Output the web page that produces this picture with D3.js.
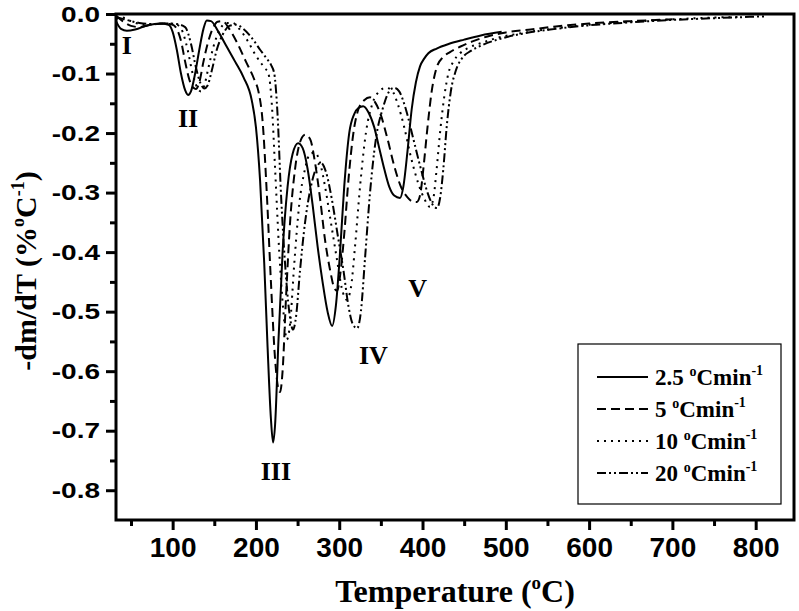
<!DOCTYPE html>
<html>
<head>
<meta charset="utf-8">
<script src="https://d3js.org/d3.v7.min.js"></script>
<style>
  body { margin: 0; background: #fff; }
  .tick-lbl { font-family: "Liberation Sans", Arial, sans-serif; font-weight: bold; font-size: 28px; }
  .serif { font-family: "Liberation Serif", "Times New Roman", serif; font-weight: bold; }
</style>
</head>
<body>
<div id="chart"></div>
<script>
// DTG curves: [temperature degC, -dm/dT %/degC]
var rate25 = [[32,-0.012],[38,-0.025],[45,-0.028],[55,-0.026],[70,-0.019],[85,-0.016],[95,-0.018],[100,-0.03],[105,-0.06],[110,-0.1],[115,-0.128],[118.5,-0.136],[122,-0.13],[127,-0.1],[132,-0.06],[137,-0.025],[141,-0.011],[146,-0.012],[155,-0.03],[165,-0.055],[175,-0.08],[185,-0.106],[195,-0.145],[200,-0.19],[205,-0.28],[210,-0.42],[214,-0.56],[218,-0.68],[220.6,-0.72],[223,-0.69],[227,-0.55],[232,-0.4],[238,-0.29],[244,-0.235],[250.6,-0.217],[256,-0.225],[262,-0.26],[268,-0.32],[274,-0.39],[280,-0.45],[286,-0.5],[291.5,-0.524],[296,-0.49],[301,-0.4],[306,-0.29],[312,-0.2],[318,-0.168],[323,-0.158],[328.7,-0.155],[335,-0.165],[342,-0.19],[348,-0.225],[354,-0.26],[360,-0.29],[366,-0.305],[373,-0.309],[377,-0.29],[382,-0.23],[387,-0.16],[392,-0.115],[397,-0.088],[402,-0.075],[407,-0.066],[417,-0.058],[432,-0.05],[450,-0.043],[470,-0.036],[495,-0.03]];
var rate5 = [[32,-0.003],[40,-0.012],[50,-0.02],[60,-0.022],[75,-0.018],[90,-0.016],[100,-0.018],[105,-0.025],[110,-0.045],[115,-0.08],[120,-0.11],[125,-0.124],[128,-0.126],[132,-0.115],[137,-0.08],[142,-0.05],[148,-0.025],[154,-0.013],[160,-0.012],[168,-0.025],[178,-0.05],[188,-0.08],[198,-0.11],[203,-0.13],[208,-0.18],[213,-0.3],[218,-0.45],[223,-0.58],[227,-0.63],[229,-0.635],[232,-0.6],[236,-0.48],[241,-0.35],[247,-0.26],[253,-0.215],[259,-0.203],[265,-0.21],[271,-0.25],[277,-0.31],[283,-0.38],[289,-0.43],[294,-0.46],[297.5,-0.465],[301,-0.44],[306,-0.37],[311,-0.28],[317,-0.2],[323,-0.16],[330,-0.145],[337,-0.14],[343,-0.148],[350,-0.17],[358,-0.21],[366,-0.255],[374,-0.29],[382,-0.308],[388,-0.315],[393,-0.316],[397,-0.305],[401,-0.26],[406,-0.19],[411,-0.13],[417,-0.09],[425,-0.072],[433,-0.064],[445,-0.055],[460,-0.046],[480,-0.037],[500,-0.031],[530,-0.026],[560,-0.021],[600,-0.016],[650,-0.012],[700,-0.009]];
var rate10 = [[32,-0.008],[40,-0.006],[50,-0.012],[65,-0.018],[80,-0.017],[95,-0.016],[105,-0.018],[112,-0.03],[118,-0.06],[124,-0.1],[130,-0.125],[134,-0.13],[138,-0.12],[143,-0.09],[150,-0.05],[157,-0.025],[165,-0.015],[172,-0.015],[180,-0.025],[190,-0.045],[200,-0.07],[210,-0.09],[215,-0.1],[219,-0.15],[223,-0.26],[228,-0.4],[233,-0.5],[237,-0.547],[241,-0.52],[246,-0.42],[252,-0.32],[259,-0.26],[265,-0.235],[271,-0.233],[277,-0.25],[283,-0.29],[290,-0.35],[297,-0.41],[303,-0.46],[309,-0.48],[314,-0.46],[319,-0.39],[325,-0.29],[332,-0.2],[340,-0.15],[348,-0.13],[356,-0.124],[363,-0.128],[370,-0.15],[378,-0.19],[386,-0.24],[395,-0.285],[402,-0.31],[409,-0.324],[413,-0.31],[417,-0.26],[421,-0.2],[426,-0.14],[431,-0.1],[437,-0.08],[445,-0.066],[455,-0.057],[470,-0.049],[490,-0.04],[520,-0.032],[560,-0.024],[600,-0.018],[650,-0.013],[700,-0.009],[750,-0.006],[780,-0.005]];
var rate20 = [[32,-0.005],[45,-0.01],[60,-0.015],[75,-0.017],[90,-0.016],[105,-0.017],[115,-0.022],[122,-0.05],[128,-0.09],[133,-0.115],[138,-0.125],[142,-0.12],[147,-0.095],[153,-0.06],[160,-0.035],[168,-0.02],[176,-0.018],[185,-0.025],[195,-0.04],[205,-0.06],[213,-0.075],[218,-0.085],[222,-0.1],[226,-0.17],[230,-0.3],[235,-0.42],[240,-0.5],[244.6,-0.53],[248,-0.51],[253,-0.43],[259,-0.35],[266,-0.29],[272,-0.26],[278,-0.25],[284,-0.265],[291,-0.31],[298,-0.37],[305,-0.43],[311,-0.49],[316,-0.52],[321.5,-0.528],[326,-0.5],[331,-0.41],[337,-0.3],[344,-0.21],[352,-0.16],[360,-0.13],[366,-0.124],[372,-0.13],[380,-0.16],[389,-0.21],[398,-0.26],[406,-0.3],[412,-0.32],[417.5,-0.326],[421,-0.31],[425,-0.26],[429,-0.19],[434,-0.13],[440,-0.095],[447.6,-0.074],[458,-0.062],[472,-0.052],[490,-0.043],[520,-0.033],[560,-0.025],[600,-0.019],[650,-0.014],[700,-0.01],[750,-0.007],[810,-0.004]];

var rateLabels = ["2.5", "5", "10", "20"];
var xTicks = [100, 200, 300, 400, 500, 600, 700, 800];
var yTicks = [0, -0.1, -0.2, -0.3, -0.4, -0.5, -0.6, -0.7, -0.8];
var stages = [["I", 45, -0.067], ["II", 118.5, -0.19], ["III", 224, -0.783], ["IV", 341, -0.588], ["V", 394, -0.476]];

var W = 799, H = 611;
var x0 = 116, x1 = 794, y0 = 14, y1 = 520;

var x = d3.scaleLinear().domain([32, 846]).range([x0, x1]);
var y = d3.scaleLinear().domain([-0.85, 0]).range([y1, y0]);

var svg = d3.select("#chart").append("svg")
  .attr("width", W)
  .attr("height", H);

var series = [rate25, rate5, rate10, rate20];
var dashes = [null, "9,5", "2,5", "9,3,2,3,2,3"];

var line = d3.line()
  .x(function (d) { return x(d[0]); })
  .y(function (d) { return y(d[1]); })
  .curve(d3.curveMonotoneX);

svg.append("g").selectAll("path")
  .data(series)
  .enter().append("path")
  .attr("d", line)
  .attr("fill", "none")
  .attr("stroke", "#000")
  .attr("stroke-width", 2)
  .attr("stroke-dasharray", function (d, i) { return dashes[i]; });

// axes
var xAxis = svg.append("g")
  .attr("transform", "translate(0," + y1 + ")")
  .call(d3.axisBottom(x).tickValues(xTicks).tickSize(10).tickFormat(d3.format("d")));
var xMinor = svg.append("g")
  .attr("transform", "translate(0," + y1 + ")")
  .call(d3.axisBottom(x).tickValues(d3.range(50, 846, 100)).tickSize(6).tickFormat(""));
var yAxis = svg.append("g")
  .attr("transform", "translate(" + x0 + ",0)")
  .call(d3.axisLeft(y).tickValues(yTicks).tickSize(10));
var yMinor = svg.append("g")
  .attr("transform", "translate(" + x0 + ",0)")
  .call(d3.axisLeft(y).tickValues([-0.05, -0.15, -0.25, -0.35, -0.45, -0.55, -0.65, -0.75]).tickSize(6).tickFormat(""));

[xAxis, xMinor, yAxis, yMinor].forEach(function (a) {
  a.select(".domain").remove();
  a.selectAll(".tick line").attr("stroke-width", 3);
});
xAxis.selectAll(".tick text").attr("class", "tick-lbl").attr("y", 17).attr("dy", "0.71em").attr("fill", "#000");
// y labels in the figure are squat, so squeeze them vertically
yAxis.selectAll(".tick text").attr("class", "tick-lbl").attr("x", -16).attr("fill", "#000")
  .attr("transform", "scale(1,0.8)")
  .text(function (d) { return d === 0 ? "0.0" : "-" + Math.abs(d).toFixed(1); });

// frame
svg.append("rect")
  .attr("x", x0).attr("y", y0)
  .attr("width", x1 - x0).attr("height", y1 - y0)
  .attr("fill", "none").attr("stroke", "#000").attr("stroke-width", 3);

// stage labels
svg.append("g").selectAll("text")
  .data(stages)
  .enter().append("text")
  .attr("class", "serif")
  .attr("font-size", 26)
  .attr("text-anchor", "middle")
  .attr("x", function (d) { return x(d[1]); })
  .attr("y", function (d) { return y(d[2]); })
  .text(function (d) { return d[0]; });

// axis titles
var xt = svg.append("text").attr("class", "serif").attr("font-size", 32)
  .attr("text-anchor", "middle").attr("x", (x0 + x1) / 2).attr("y", 602);
xt.append("tspan").text("Temperature (");
xt.append("tspan").attr("font-size", 19).attr("dy", -13).text("o");
xt.append("tspan").attr("dy", 13).text("C)");

var yt = svg.append("text").attr("class", "serif").attr("font-size", 30)
  .attr("text-anchor", "middle")
  .attr("transform", "translate(36," + ((y0 + y1) / 2 + 4) + ") rotate(-90)");
yt.append("tspan").text("-dm/dT (%");
yt.append("tspan").attr("font-size", 18).attr("dy", -12).text("o");
yt.append("tspan").attr("dy", 12).text("C");
yt.append("tspan").attr("font-size", 18).attr("dy", -12).text("-1");
yt.append("tspan").attr("dy", 12).text(")");

// legend
var lg = svg.append("g");
lg.append("rect").attr("x", 578).attr("y", 344).attr("width", 203).attr("height", 160)
  .attr("fill", "#fff").attr("stroke", "#000").attr("stroke-width", 1.2);
rateLabels.forEach(function (r, i) {
  var ly = 377 + i * 32;
  lg.append("line").attr("x1", 597).attr("x2", 648).attr("y1", ly).attr("y2", ly)
    .attr("stroke", "#000").attr("stroke-width", 2).attr("stroke-dasharray", dashes[i]);
  var t = lg.append("text").attr("class", "serif").attr("font-size", 23)
    .attr("x", 655).attr("y", ly + 8);
  t.append("tspan").text(r + " ");
  t.append("tspan").attr("font-size", 14).attr("dy", -9).text("o");
  t.append("tspan").attr("dy", 9).text("Cmin");
  t.append("tspan").attr("font-size", 14).attr("dy", -10).text("-1");
});
</script>
</body>
</html>
